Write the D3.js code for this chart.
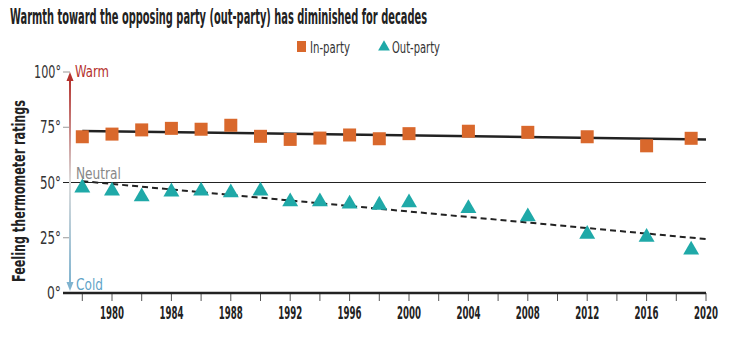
<!DOCTYPE html>
<html><head><meta charset="utf-8">
<script src="https://cdn.jsdelivr.net/npm/d3@7"></script>
<style>
body{margin:0;background:#fff;}
svg{display:block;font-family:"DejaVu Sans Condensed","Liberation Sans Narrow",sans-serif;}
</style></head><body>
<svg id="c" width="734" height="354"></svg>
<script>
const years = [1978,1980,1982,1984,1986,1988,1990,1992,1994,1996,1998,2000,2004,2008,2012,2016,2019];
const inParty = [70.7,71.9,73.8,74.5,74.1,75.9,70.9,69.5,70.1,71.5,69.8,72.1,73.2,72.7,70.7,66.6,70.0];
const outParty = [47.6,46.2,43.6,45.8,46.2,45.4,46.2,41.3,41.3,40.3,39.8,40.9,38.3,34.5,26.6,25.3,19.5];
const trendYears = [1978,2020];
const inTrend = [73.3,69.5];
const outTrend = [50.6,24.4];
const yTicks = [0,25,50,75,100];
const xTickLabels = [1980,1984,1988,1992,1996,2000,2004,2008,2012,2016,2020];

const svg = d3.select("#c");
const x = d3.scaleLinear().domain([1980,2020]).range([112,706]);
const y = d3.scaleLinear().domain([0,100]).range([293,72]);
const ORANGE="#d9682c", TEAL="#1fa9a8";

// place a text at (px,py) horizontally squeezed to width w (with optional rotation)
function ftext(px, py, str, w, opts){
  const o = Object.assign({size:16, weight:"normal", fill:"#333", anchor:"start", rot:0}, opts||{});
  const g = svg.append("g");
  const t = g.append("text").attr("x",0).attr("y",0).attr("font-size",o.size).attr("font-weight",o.weight)
    .attr("fill",o.fill).attr("text-anchor",o.anchor).text(str);
  const L = t.node().getComputedTextLength();
  const k = Math.min(1, w/L);
  g.attr("transform",`translate(${px},${py}) rotate(${o.rot}) scale(${k},1)`);
  return t;
}

// title
ftext(10,24,"Warmth toward the opposing party (out-party) has diminished for decades",417,{size:21,weight:"bold",fill:"#222"});

// legend
svg.append("rect").attr("x",297).attr("y",41).attr("width",9).attr("height",11).attr("fill",ORANGE);
ftext(310,53,"In-party",40);
svg.append("path").attr("d",d3.symbol().type(d3.symbolTriangle).size(60)()).attr("transform","translate(384,47)").attr("fill",TEAL);
ftext(392,53,"Out-party",48);

// y axis title
ftext(25,191,"Feeling thermometer ratings",182,{size:17,weight:"bold",fill:"#222",anchor:"middle",rot:-90});

// y tick labels & ticks
yTicks.forEach(v=>{
  ftext(61, y(v)+6, v+"°", v===100?27:(v===0?14:21), {size:17,anchor:"end"});
});
svg.selectAll(".yt").data([100,75,25]).join("line").attr("x1",63).attr("x2",70).attr("y1",d=>y(d)).attr("y2",d=>y(d)).attr("stroke","#999").attr("stroke-width",1);

// neutral line
svg.append("line").attr("x1",63).attr("x2",706).attr("y1",y(50)).attr("y2",y(50)).attr("stroke","#222").attr("stroke-width",1.2);

// gradient arrow
const defs = svg.append("defs");
const gr = defs.append("linearGradient").attr("id","grad").attr("x1",0).attr("y1",0).attr("x2",0).attr("y2",1);
gr.append("stop").attr("offset","0%").attr("stop-color","#b5322e");
gr.append("stop").attr("offset","50%").attr("stop-color","#dcdcdc");
gr.append("stop").attr("offset","100%").attr("stop-color","#7fb3cf");
svg.append("rect").attr("x",69).attr("y",y(100)+6).attr("width",2).attr("height",y(0)-y(100)-14).attr("fill","url(#grad)");
svg.append("path").attr("d",`M${70-3.5},${y(100)+9}L70,${y(100)}L${70+3.5},${y(100)+9}Z`).attr("fill","#b5322e");
svg.append("path").attr("d",`M${70-3.5},${y(0)-11}L70,${y(0)-2}L${70+3.5},${y(0)-11}Z`).attr("fill","#7fb3cf");
ftext(75, y(100)+5, "Warm", 34, {fill:"#b5322e"});
ftext(76, y(0)-3, "Cold", 27, {fill:"#5fa3c7"});
ftext(76, y(50)-4, "Neutral", 45, {fill:"#888"});

// x axis
const xt = d3.range(1978,2021,2);
svg.selectAll(".xt").data(xt).join("line").attr("x1",d=>x(d)).attr("x2",d=>x(d)).attr("y1",y(0)).attr("y2",y(0)+8).attr("stroke","#555").attr("stroke-width",1);
svg.append("line").attr("x1",63).attr("x2",706).attr("y1",y(0)).attr("y2",y(0)).attr("stroke","#222").attr("stroke-width",2.5);
xTickLabels.forEach(d=>{
  ftext(x(d), y(0)+26, String(d), 24, {size:17,weight:"bold",fill:"#222",anchor:"middle"});
});

// trend lines
const line = d3.line().x(d=>x(d[0])).y(d=>y(d[1]));
svg.append("path").attr("d",line(trendYears.map((t,i)=>[t,inTrend[i]]))).attr("stroke","#222").attr("stroke-width",2.5).attr("fill","none");
svg.append("path").attr("d",line(trendYears.map((t,i)=>[t,outTrend[i]]))).attr("stroke","#222").attr("stroke-width",2).attr("stroke-dasharray","6,4").attr("fill","none");

// points
svg.selectAll(".ip").data(years).join("rect").attr("x",(d)=>x(d)-6.5).attr("y",(d,i)=>y(inParty[i])-6.5)
  .attr("width",13).attr("height",13).attr("fill",ORANGE);
const tri = d3.symbol().type(d3.symbolTriangle).size(110)();
svg.selectAll(".op").data(years).join("path").attr("d",tri)
  .attr("transform",(d,i)=>`translate(${x(d)},${y(outParty[i])})`).attr("fill",TEAL);
</script></body></html>
